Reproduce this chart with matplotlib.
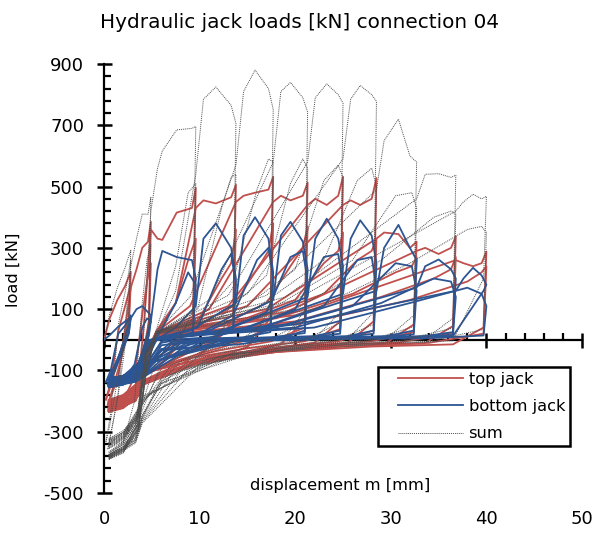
import matplotlib
matplotlib.use("Agg")
import matplotlib.pyplot as plt
from matplotlib.ticker import FixedLocator, MultipleLocator
from matplotlib.lines import Line2D
from matplotlib.legend_handler import HandlerLine2D

plt.rcParams['font.family'] = ['DejaVu Sans']
plt.rcParams['axes.unicode_minus'] = False

# displacement vertices of every load cycle [mm]
loop_disp = [
    [0.0, 0.6, 1.4, 2.2, 2.8, 2.6, 2.0, 1.3, 0.6, 0.2],
    [0.2, 0.7, 1.5, 2.3, 2.8, 2.6, 1.9, 1.1, 0.4],
    [0.4, 1.5, 2.8, 3.4, 4.0, 4.6, 4.9, 4.7, 4.0, 3.3, 2.2, 0.5],
    [0.5, 2.0, 3.2, 4.0, 4.5, 4.9, 4.7, 4.0, 3.3, 2.0, 0.5],
    [0.5, 2.0, 3.5, 4.2, 4.9, 5.6, 6.1, 7.6, 9.2, 9.6, 9.3, 7.5, 6.0, 4.0, 3.3, 2.0, 0.5],
    [0.5, 2.0, 3.5, 4.3, 5.5, 7.5, 8.8, 9.6, 9.3, 7.0, 5.5, 4.0, 3.3, 2.0, 0.5],
    [0.5, 2.0, 3.6, 4.4, 5.5, 7.5, 9.6, 10.4, 11.7, 13.3, 13.8, 13.5, 11.3, 8.0, 6.0, 4.0, 3.3, 2.0, 0.5],
    [0.5, 2.0, 3.6, 4.4, 5.5, 9.8, 12.3, 13.3, 13.8, 13.5, 11.0, 8.0, 6.0, 4.0, 3.3, 2.0, 0.5],
    [0.5, 2.0, 3.6, 4.4, 5.5, 9.0, 13.8, 14.6, 15.8, 17.2, 17.7, 17.4, 15.0, 11.0, 8.0, 6.0, 4.0, 3.3, 2.0, 0.5],
    [0.5, 2.0, 3.6, 4.4, 5.5, 10.0, 13.5, 16.0, 17.2, 17.7, 17.4, 14.5, 10.0, 7.0, 4.0, 3.3, 2.0, 0.5],
    [0.5, 2.0, 3.6, 4.4, 5.5, 11.0, 17.7, 18.5, 19.5, 20.8, 21.3, 21.0, 18.5, 14.0, 9.0, 6.0, 4.0, 3.3, 2.0, 0.5],
    [0.5, 2.0, 3.6, 4.4, 5.5, 12.0, 17.0, 19.5, 20.8, 21.3, 21.0, 17.5, 12.0, 8.0, 4.0, 3.3, 2.0, 0.5],
    [0.5, 2.0, 3.6, 4.4, 5.5, 13.0, 21.3, 22.1, 23.3, 24.5, 25.0, 24.7, 22.0, 16.0, 10.0, 6.0, 4.0, 3.3, 2.0, 0.5],
    [0.5, 2.0, 3.6, 4.4, 5.5, 14.0, 20.0, 23.0, 24.5, 25.0, 24.7, 21.0, 15.0, 9.0, 4.0, 3.3, 2.0, 0.5],
    [0.5, 2.0, 3.6, 4.4, 5.5, 15.0, 25.0, 25.8, 26.8, 28.0, 28.5, 28.2, 25.5, 19.0, 12.0, 7.0, 4.0, 3.3, 2.0, 0.5],
    [0.5, 2.0, 3.6, 4.4, 5.5, 16.0, 23.0, 26.5, 28.0, 28.5, 28.2, 24.5, 18.0, 11.0, 4.0, 3.3, 2.0, 0.5],
    [0.5, 2.0, 3.6, 4.4, 5.5, 17.0, 28.5, 29.3, 30.8, 32.0, 32.7, 32.4, 29.5, 22.0, 14.0, 8.0, 4.0, 3.3, 2.0, 0.5],
    [0.5, 2.0, 3.6, 4.4, 5.5, 18.0, 26.0, 30.5, 32.2, 32.7, 32.4, 28.0, 20.0, 12.0, 4.0, 3.3, 2.0, 0.5],
    [0.5, 2.0, 3.6, 4.4, 5.5, 19.0, 32.7, 33.6, 35.0, 36.3, 36.8, 36.5, 33.5, 25.0, 16.0, 9.0, 4.0, 3.3, 2.0, 0.5],
    [0.5, 2.0, 3.6, 4.4, 5.5, 20.0, 29.0, 34.5, 36.3, 36.8, 36.5, 31.0, 22.0, 13.0, 4.0, 3.3, 2.0, 0.5],
    [0.5, 2.0, 3.6, 4.4, 5.5, 20.0, 36.8, 37.6, 38.6, 39.5, 40.0, 39.7, 36.5, 28.0, 18.0, 10.0, 4.0, 3.3, 2.0, 0.5],
    [0.5, 2.0, 3.6, 4.4, 5.5, 22.0, 32.0, 38.0, 39.5, 40.0, 39.7, 34.0, 24.0, 14.0, 4.0, 3.3, 2.0, 0.5],
]

# top jack load at those vertices [kN]
top_load = [
    [0, 70, 130, 175, 222, 70, -10, -80, -160, -195],
    [-195, -140, 30, 120, 180, 50, -50, -140, -212],
    [-212, -120, 170, 230, 300, 320, 385, 60, -60, -150, -200, -222],
    [-222, -200, -120, 80, 190, 250, 40, -70, -160, -205, -225],
    [-225, -210, -170, 60, 360, 330, 326, 415, 430, 496, 70, -30, -75, -125, -180, -208, -226],
    [-226, -212, -172, -50, 30, 120, 260, 330, 50, -25, -60, -115, -170, -200, -220],
    [-228, -215, -175, -60, 20, 120, 430, 455, 445, 465, 506, 60, -20, -80, -105, -135, -185, -210, -228],
    [-215, -200, -160, -50, 15, 60, 200, 250, 360, 40, -10, -55, -85, -120, -165, -195, -212],
    [-230, -218, -178, -65, 25, 110, 450, 470, 480, 490, 532, 70, -25, -60, -88, -108, -138, -190, -212, -230],
    [-212, -198, -158, -45, 20, 50, 110, 230, 290, 380, 45, -5, -45, -75, -118, -160, -192, -208],
    [-229, -216, -176, -62, 22, 100, 450, 470, 455, 470, 513, 65, -15, -45, -85, -110, -135, -188, -210, -228],
    [-210, -196, -156, -42, 18, 45, 120, 240, 300, 370, 40, -5, -35, -65, -115, -158, -190, -206],
    [-231, -219, -179, -66, 24, 110, 440, 460, 440, 470, 532, 60, -10, -35, -70, -110, -140, -192, -213, -231],
    [-208, -194, -154, -40, 18, 60, 130, 250, 290, 350, 35, -5, -28, -60, -112, -155, -188, -204],
    [-232, -220, -180, -68, 25, 110, 440, 455, 440, 460, 528, 60, -10, -30, -60, -100, -142, -194, -214, -232],
    [-206, -192, -152, -38, 16, 70, 150, 260, 290, 330, 30, -5, -25, -55, -110, -152, -186, -202],
    [-233, -221, -181, -70, 26, 100, 330, 350, 345, 300, 320, 50, -10, -25, -55, -90, -144, -196, -215, -233],
    [-204, -190, -150, -36, 15, 70, 150, 220, 240, 270, 25, -5, -22, -50, -108, -150, -184, -200],
    [-234, -222, -182, -72, 27, 90, 290, 300, 280, 300, 337, 45, -12, -22, -45, -80, -146, -198, -216, -234],
    [-202, -188, -148, -34, 14, 60, 140, 200, 230, 270, 22, -8, -20, -45, -106, -148, -182, -198],
    [-235, -223, -183, -74, 28, 80, 260, 250, 240, 250, 288, 40, -15, -22, -40, -75, -148, -200, -217, -235],
    [-200, -186, -146, -32, 13, 60, 130, 190, 220, 240, 20, -10, -20, -42, -104, -146, -180, -196],
]

# bottom jack load at those vertices [kN]
bottom_load = [
    [0, 15, 40, 60, 70, 25, -20, -70, -120, -138],
    [-138, -100, 20, 50, 80, 20, -40, -105, -145],
    [-145, -60, 70, 100, 110, 90, 80, 20, -70, -125, -135, -148],
    [-148, -135, -80, 40, 70, 60, 15, -60, -120, -135, -150],
    [-150, -140, -110, -20, 60, 230, 290, 270, 260, 200, 25, 5, -5, -105, -125, -135, -150],
    [-150, -142, -105, -25, 5, 120, 220, 180, 20, 8, 0, -95, -120, -132, -146],
    [-148, -140, -100, -30, 0, 40, 110, 330, 380, 300, 200, 30, 5, -25, -30, -110, -130, -138, -148],
    [-140, -132, -90, -20, 5, 40, 230, 280, 180, 25, 8, 2, -10, -95, -120, -128, -140],
    [-150, -142, -105, -35, 0, 30, 120, 340, 400, 330, 220, 35, 5, -20, -30, -35, -115, -132, -140, -150],
    [-138, -130, -88, -15, 5, 20, 80, 260, 300, 200, 25, 8, 3, -8, -92, -118, -126, -138],
    [-149, -141, -102, -32, 0, 30, 130, 340, 385, 320, 230, 30, 5, -15, -25, -30, -112, -130, -139, -149],
    [-136, -128, -86, -14, 6, 25, 90, 270, 290, 190, 22, 8, 3, -6, -90, -116, -125, -136],
    [-151, -143, -106, -36, 0, 35, 140, 330, 395, 330, 240, 30, 12, 6, 0, -18, -116, -133, -141, -151],
    [-134, -126, -84, -12, 6, 30, 100, 270, 280, 180, 20, 6, 2, -5, -88, -114, -123, -134],
    [-152, -144, -107, -37, 0, 40, 150, 330, 390, 340, 250, 30, 12, 6, 2, -15, -118, -134, -142, -152],
    [-132, -124, -82, -10, 6, 35, 110, 260, 270, 170, 20, 6, 2, -5, -86, -112, -121, -132],
    [-153, -145, -108, -38, 0, 45, 160, 300, 375, 300, 260, 30, 12, 6, 2, -12, -120, -135, -143, -153],
    [-130, -122, -80, -8, 6, 40, 110, 250, 240, 160, 18, 6, 2, -5, -84, -110, -120, -130],
    [-154, -146, -109, -39, 0, 50, 170, 240, 262, 230, 200, 25, 12, 6, 2, -10, -122, -136, -144, -154],
    [-128, -120, -78, -6, 6, 40, 120, 200, 190, 140, 16, 6, 2, -4, -82, -108, -119, -128],
    [-155, -147, -110, -40, 0, 50, 160, 200, 235, 210, 180, 160, 12, 6, 2, -8, -124, -137, -145, -155],
    [-126, -118, -76, -5, 6, 40, 120, 170, 150, 110, 14, 5, 2, -4, -80, -106, -117, -126],
]

# sum of both jacks
sum_load = [[t + b for t, b in zip(tl, bl)] for tl, bl in zip(top_load, bottom_load)]

red = '#C0504D'
blue = '#2C5593'
dots = '#4d4d4d'

fig = plt.figure(figsize=(5.96, 5.35), dpi=100)
ax = fig.add_axes([104 / 596, 1 - 493 / 535, 478 / 596, 429 / 535])

for xs, ys in zip(loop_disp, top_load):
    ax.plot(xs, ys, color=red, lw=1.3, zorder=3)
for xs, ys in zip(loop_disp, bottom_load):
    ax.plot(xs, ys, color=blue, lw=1.3, zorder=4)
for xs, ys in zip(loop_disp, sum_load):
    ax.plot(xs, ys, color=dots, lw=0.7, ls=(0, (1, 1)), zorder=5)

ax.set_xlim(0, 50)
ax.set_ylim(-500, 900)

# axes cross at zero
for side in ['top', 'right']:
    ax.spines[side].set_visible(False)
ax.spines['bottom'].set_position(('data', 0))
for side in ['bottom', 'left']:
    ax.spines[side].set_linewidth(1.6)
    ax.spines[side].set_zorder(2)

ax.set_xticks(range(0, 51, 10))
ax.xaxis.set_minor_locator(MultipleLocator(2))
ax.set_yticks(range(-500, 901, 200))
ax.yaxis.set_minor_locator(FixedLocator(range(-500, 901, 40)))
ax.tick_params(axis='both', which='major', direction='inout', length=10.8, width=1.8)
ax.tick_params(axis='both', which='minor', direction='in', length=5, width=1.6)
ax.tick_params(axis='x', labelbottom=False)
ax.tick_params(axis='y', labelsize=13, pad=9)

# x tick labels sit below the plot area
sec = ax.secondary_xaxis('bottom')
sec.set_xticks(range(0, 51, 10))
sec.tick_params(length=0, labelsize=13, pad=12)
sec.spines['bottom'].set_visible(False)

ax.text(0.494, 0.018, 'displacement m [mm]', transform=ax.transAxes,
        ha='center', va='center', fontsize=11.7)
fig.text(13 / 596, 1 - 270 / 535, 'load [kN]', rotation=90,
         ha='center', va='center', fontsize=11.7)
fig.text(100 / 596, 1 - 27.5 / 535, 'Hydraulic jack loads [kN] connection 04',
         ha='left', va='baseline', fontsize=14.4)

handles = [Line2D([], [], color=red, lw=1.3),
           Line2D([], [], color=blue, lw=1.3),
           Line2D([], [], color=dots, lw=0.7, ls=(0, (1, 1)))]
leg = fig.legend(handles, ['top jack', 'bottom jack', 'sum'],
                 loc='upper left', bbox_to_anchor=(378 / 596, 1 - 367 / 535),
                 fontsize=11.7, frameon=True, fancybox=False, framealpha=1,
                 edgecolor='black', handlelength=4.9, labelspacing=0.75,
                 borderpad=0.3, handletextpad=0.37, borderaxespad=0,
                 handler_map={Line2D: HandlerLine2D(xpad=0.92)})
leg.get_frame().set_linewidth(1.8)

fig.savefig('out.png', dpi=100)
